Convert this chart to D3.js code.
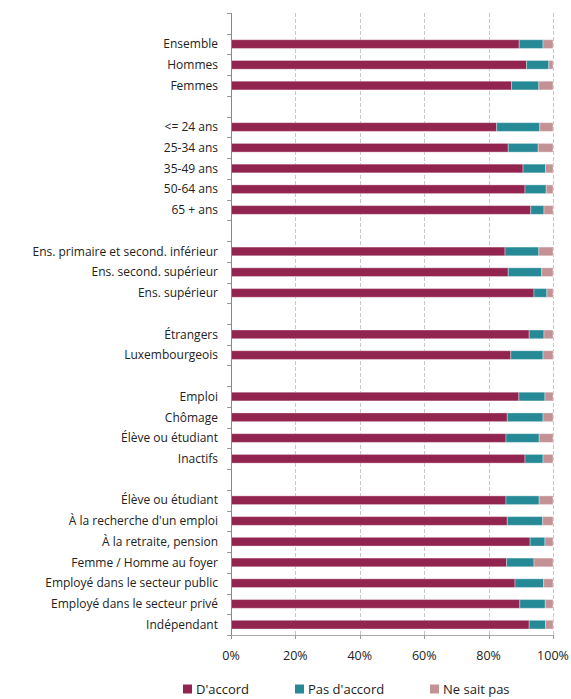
<!DOCTYPE html>
<html><head><meta charset="utf-8">
<script src="https://cdn.jsdelivr.net/npm/d3@7"></script>
<style>
body{margin:0;background:#fff;}
svg text{font-family:"Open Sans","Noto Sans",sans-serif;fill:#222;}
</style></head>
<body><svg id="c" width="571" height="699"></svg>
<script>
const categories = ["", "Ensemble", "Hommes", "Femmes", "", "<= 24 ans", "25-34 ans", "35-49 ans", "50-64 ans", "65 + ans", "",
 "Ens. primaire et second. inférieur", "Ens. second. supérieur", "Ens. supérieur", "",
 "Étrangers", "Luxembourgeois", "",
 "Emploi", "Chômage", "Élève ou étudiant", "Inactifs", "",
 "Élève ou étudiant", "À la recherche d'un emploi", "À la retraite, pension", "Femme / Homme au foyer",
 "Employé dans le secteur public", "Employé dans le secteur privé", "Indépendant"];
const accord =    [null, 89.5, 91.8, 87.1, null, 82.5, 86.1, 90.7, 91.3, 93.1, null, 85.1, 86.1, 94.1, null, 92.6, 86.9, null, 89.4, 85.8, 85.4, 91.3, null, 85.4, 85.8, 92.9, 85.6, 88.2, 89.7, 92.6];
const pasAccord = [null, 7.4, 6.9, 8.5, null, 13.4, 9.3, 7.0, 6.6, 4.1, null, 10.5, 10.4, 4.0, null, 4.6, 10.0, null, 8.1, 11.1, 10.3, 5.6, null, 10.3, 11.0, 4.6, 8.5, 8.9, 7.9, 5.1];
const neSaitPas = [null, 3.1, 1.3, 4.4, null, 4.1, 4.6, 2.3, 2.1, 2.8, null, 4.4, 3.5, 1.9, null, 2.8, 3.1, null, 2.5, 3.1, 4.3, 3.1, null, 4.3, 3.2, 2.5, 5.9, 2.9, 2.4, 2.3];
const seriesNames = ["D'accord", "Pas d'accord", "Ne sait pas"];
const colors = ["#92254f", "#258a96", "#c49195"];
const xTicks = [0, 20, 40, 60, 80, 100];

const svg = d3.select("#c");
const margin = {left: 231, right: 18, top: 13, bottom: 64};
const W = 571, H = 699;
const x = d3.scaleLinear().domain([0, 100]).range([margin.left, W - margin.right]);
const idx = categories.map((d, i) => i);
const y = d3.scaleBand().domain(idx).range([margin.top, H - margin.bottom]).paddingInner(0.58).paddingOuter(0.29);

// gridlines
svg.append("g").selectAll("line").data(xTicks.slice(1)).join("line")
  .attr("x1", d => Math.round(x(d))+0.5).attr("x2", d => Math.round(x(d))+0.5)
  .attr("y1", margin.top).attr("y2", H - margin.bottom)
  .attr("stroke", "#c8c8c8").attr("stroke-dasharray", "4,2").attr("stroke-width", 1);

const stackData = idx.filter(i => accord[i] !== null).map(i => ({i, a: accord[i], b: pasAccord[i], c: neSaitPas[i]}));
const stack = d3.stack().keys(["a", "b", "c"])(stackData);
svg.append("g").selectAll("g").data(stack).join("g").attr("fill", (d, k) => colors[k])
  .selectAll("rect").data(d => d).join("rect")
  .attr("x", d => x(d[0])).attr("width", d => x(d[1]) - x(d[0]))
  .attr("y", d => y(d.data.i)).attr("height", y.bandwidth())
  .attr("stroke", "rgba(255,255,255,0.35)").attr("stroke-width", 1);

// y axis
const step = y.step();
const yAxis = svg.append("g").attr("transform", `translate(${margin.left},0)`);
yAxis.append("line").attr("x1", 0.5).attr("x2", 0.5).attr("y1", margin.top).attr("y2", H - margin.bottom).attr("stroke", "#888");
const boundaries = d3.range(categories.length + 1).map(k => margin.top + k * step);
yAxis.selectAll("line.tk").data(boundaries).join("line").attr("class", "tk")
  .attr("x1", -4).attr("x2", 0).attr("y1", d => Math.round(d)+0.5).attr("y2", d => Math.round(d)+0.5).attr("stroke", "#999");
yAxis.selectAll("text").data(idx.filter(i => categories[i] !== "")).join("text")
  .attr("x", -13).attr("y", i => y(i) + y.bandwidth()/2).attr("dy", "0.35em")
  .attr("text-anchor", "end").attr("font-size", 12).text(i => categories[i]);

// x axis
const xAxis = svg.append("g").attr("transform", `translate(0,${H - margin.bottom})`);
xAxis.append("line").attr("x1", x(0)).attr("x2", x(100)).attr("y1", 0.5).attr("y2", 0.5).attr("stroke", "#aaa");
xAxis.selectAll("line.t").data(xTicks).join("line").attr("class","t")
  .attr("x1", d => Math.round(x(d))+0.5).attr("x2", d => Math.round(x(d))+0.5).attr("y1", 0).attr("y2", 4).attr("stroke", "#999");
xAxis.selectAll("text").data(xTicks).join("text")
  .attr("x", d => x(d)).attr("y", 25).attr("text-anchor", "middle").attr("font-size", 12.5).text(d => d + "%");

// legend
const legX = [183, 295, 430];
const leg = svg.append("g").attr("transform", `translate(0,689)`);
seriesNames.forEach((n, k) => {
  leg.append("rect").attr("x", legX[k]).attr("y", -4.5).attr("width", 9).attr("height", 9).attr("fill", colors[k]);
  leg.append("text").attr("x", legX[k] + 13).attr("y", 0).attr("dy", "0.35em").attr("font-size", 13).text(n);
});
</script></body></html>
